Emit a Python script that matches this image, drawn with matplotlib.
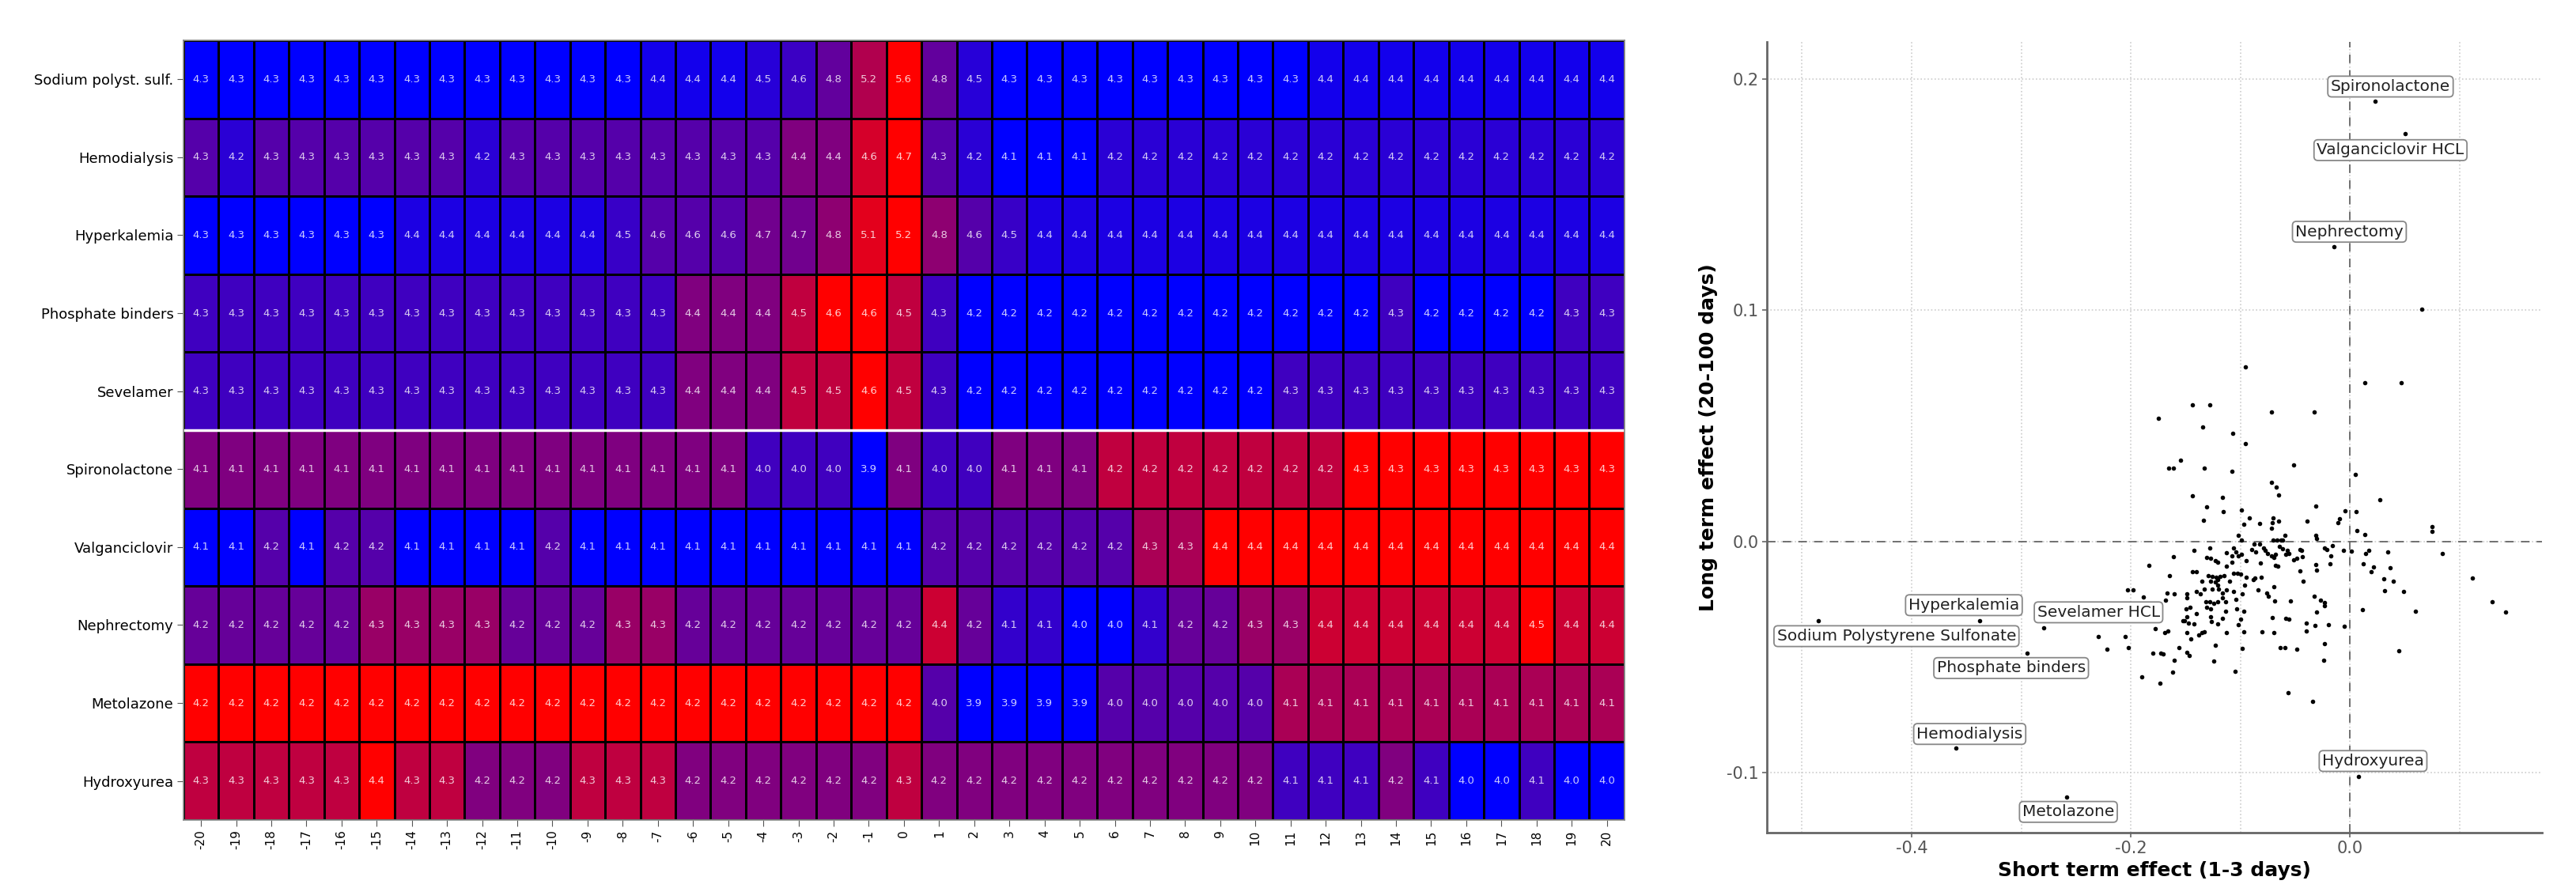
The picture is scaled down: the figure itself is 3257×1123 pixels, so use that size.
import numpy as np
import matplotlib.pyplot as plt
from matplotlib.colors import LinearSegmentedColormap
from matplotlib.ticker import MultipleLocator, FormatStrFormatter

plt.rcParams['axes.unicode_minus'] = False

# ---- heatmap data: mean value by day relative to event ----
days = list(range(-20, 21))
row_names = ["Sodium polyst. sulf.", "Hemodialysis", "Hyperkalemia", "Phosphate binders",
             "Sevelamer", "Spironolactone", "Valganciclovir", "Nephrectomy",
             "Metolazone", "Hydroxyurea"]

sodium_polyst = [4.3, 4.3, 4.3, 4.3, 4.3, 4.3, 4.3, 4.3, 4.3, 4.3, 4.3, 4.3, 4.3, 4.4,
                 4.4, 4.4, 4.5, 4.6, 4.8, 5.2, 5.6, 4.8, 4.5, 4.3, 4.3, 4.3, 4.3, 4.3,
                 4.3, 4.3, 4.3, 4.3, 4.4, 4.4, 4.4, 4.4, 4.4, 4.4, 4.4, 4.4, 4.4]
hemodialysis = [4.3, 4.2, 4.3, 4.3, 4.3, 4.3, 4.3, 4.3, 4.2, 4.3, 4.3, 4.3, 4.3, 4.3,
                4.3, 4.3, 4.3, 4.4, 4.4, 4.6, 4.7, 4.3, 4.2, 4.1, 4.1, 4.1, 4.2, 4.2,
                4.2, 4.2, 4.2, 4.2, 4.2, 4.2, 4.2, 4.2, 4.2, 4.2, 4.2, 4.2, 4.2]
hyperkalemia = [4.3, 4.3, 4.3, 4.3, 4.3, 4.3, 4.4, 4.4, 4.4, 4.4, 4.4, 4.4, 4.5, 4.6,
                4.6, 4.6, 4.7, 4.7, 4.8, 5.1, 5.2, 4.8, 4.6, 4.5, 4.4, 4.4, 4.4, 4.4,
                4.4, 4.4, 4.4, 4.4, 4.4, 4.4, 4.4, 4.4, 4.4, 4.4, 4.4, 4.4, 4.4]
phosphate_binders = [4.3, 4.3, 4.3, 4.3, 4.3, 4.3, 4.3, 4.3, 4.3, 4.3, 4.3, 4.3, 4.3, 4.3,
                     4.4, 4.4, 4.4, 4.5, 4.6, 4.6, 4.5, 4.3, 4.2, 4.2, 4.2, 4.2, 4.2, 4.2,
                     4.2, 4.2, 4.2, 4.2, 4.2, 4.2, 4.3, 4.2, 4.2, 4.2, 4.2, 4.3, 4.3]
sevelamer = [4.3, 4.3, 4.3, 4.3, 4.3, 4.3, 4.3, 4.3, 4.3, 4.3, 4.3, 4.3, 4.3, 4.3,
             4.4, 4.4, 4.4, 4.5, 4.5, 4.6, 4.5, 4.3, 4.2, 4.2, 4.2, 4.2, 4.2, 4.2,
             4.2, 4.2, 4.2, 4.3, 4.3, 4.3, 4.3, 4.3, 4.3, 4.3, 4.3, 4.3, 4.3]
spironolactone = [4.1, 4.1, 4.1, 4.1, 4.1, 4.1, 4.1, 4.1, 4.1, 4.1, 4.1, 4.1, 4.1, 4.1,
                  4.1, 4.1, 4.0, 4.0, 4.0, 3.9, 4.1, 4.0, 4.0, 4.1, 4.1, 4.1, 4.2, 4.2,
                  4.2, 4.2, 4.2, 4.2, 4.2, 4.3, 4.3, 4.3, 4.3, 4.3, 4.3, 4.3, 4.3]
valganciclovir = [4.1, 4.1, 4.2, 4.1, 4.2, 4.2, 4.1, 4.1, 4.1, 4.1, 4.2, 4.1, 4.1, 4.1,
                  4.1, 4.1, 4.1, 4.1, 4.1, 4.1, 4.1, 4.2, 4.2, 4.2, 4.2, 4.2, 4.2, 4.3,
                  4.3, 4.4, 4.4, 4.4, 4.4, 4.4, 4.4, 4.4, 4.4, 4.4, 4.4, 4.4, 4.4]
nephrectomy = [4.2, 4.2, 4.2, 4.2, 4.2, 4.3, 4.3, 4.3, 4.3, 4.2, 4.2, 4.2, 4.3, 4.3,
               4.2, 4.2, 4.2, 4.2, 4.2, 4.2, 4.2, 4.4, 4.2, 4.1, 4.1, 4.0, 4.0, 4.1,
               4.2, 4.2, 4.3, 4.3, 4.4, 4.4, 4.4, 4.4, 4.4, 4.4, 4.5, 4.4, 4.4]
metolazone = [4.2, 4.2, 4.2, 4.2, 4.2, 4.2, 4.2, 4.2, 4.2, 4.2, 4.2, 4.2, 4.2, 4.2,
              4.2, 4.2, 4.2, 4.2, 4.2, 4.2, 4.2, 4.0, 3.9, 3.9, 3.9, 3.9, 4.0, 4.0,
              4.0, 4.0, 4.0, 4.1, 4.1, 4.1, 4.1, 4.1, 4.1, 4.1, 4.1, 4.1, 4.1]
hydroxyurea = [4.3, 4.3, 4.3, 4.3, 4.3, 4.4, 4.3, 4.3, 4.2, 4.2, 4.2, 4.3, 4.3, 4.3,
               4.2, 4.2, 4.2, 4.2, 4.2, 4.2, 4.3, 4.2, 4.2, 4.2, 4.2, 4.2, 4.2, 4.2,
               4.2, 4.2, 4.2, 4.1, 4.1, 4.1, 4.2, 4.1, 4.0, 4.0, 4.1, 4.0, 4.0]

# ---- scatter data: short vs long term effect ----
short_term = [
    -0.0957, -0.1438, -0.1282, -0.1746, -0.1346, -0.1070, -0.0952, -0.1549, -0.1654, -0.1613,
    -0.1332, -0.1077, -0.1440, -0.1164, -0.1306, -0.1159, -0.0991, -0.1337, -0.0921, -0.0969,
    -0.0825, -0.1017, -0.0993, -0.1421, -0.1282, -0.1613, -0.1835, -0.1310, -0.1270, -0.1233,
    -0.1205, -0.1125, -0.1065, -0.1041, -0.1077, -0.1017, -0.0988, -0.1125, -0.1077, -0.0950,
    -0.0897, -0.0861, -0.0825, -0.0789, -0.0776, -0.0752, -0.0820, -0.0873, -0.1647, -0.1438,
    -0.1402, -0.1294, -0.1257, -0.1221, -0.1185, -0.1149, -0.1065, -0.1029, -0.0998, -0.0950,
    -0.0885, -0.0868, -0.0810, -0.1349, -0.1270, -0.1233, -0.1209, -0.1101, -0.1209, -0.0964,
    -0.2032, -0.1979, -0.1888, -0.1686, -0.1671, -0.1606, -0.1486, -0.1486, -0.1402, -0.1366,
    -0.1330, -0.1257, -0.1197, -0.1161, -0.1125, -0.1065, -0.0981, -0.0841, -0.0764, -0.0748,
    -0.1318, -0.1282, -0.1245, -0.1209, -0.1137, -0.1041, -0.1161, -0.1498, -0.1462, -0.1306,
    -0.1270, -0.1402, -0.1486, -0.1510, -0.1137, -0.1034, -0.0969, -0.1270, -0.1161, -0.0998,
    -0.1527, -0.1474, -0.1421, -0.1262, -0.1209, -0.1017, -0.1779, -0.1690, -0.1659, -0.1486,
    -0.1455, -0.1378, -0.1354, -0.1334, -0.1125, -0.0969, -0.0805, -0.2296, -0.2051, -0.2215,
    -0.2022, -0.1233, -0.0981, -0.1558, -0.1486, -0.1469, -0.1799, -0.1726, -0.1702, -0.1606,
    -0.1245, -0.1618, -0.1046, -0.1902, -0.1731,
    0.0132, 0.0469, -0.0717, -0.0327, -0.0513, 0.0045, -0.0717, -0.0676, -0.0652, 0.0269,
    -0.0311, -0.0048, 0.0057, -0.0099, -0.0109, -0.0700, -0.0710, -0.0717, -0.0652, -0.0395,
    0.0750, 0.0750, 0.0065, 0.0132, -0.0592, -0.0315, -0.0308, -0.0705, -0.0669, -0.0633,
    -0.0614, -0.0645, -0.0616, -0.0717, -0.0693, -0.0681, -0.0573, -0.0561, -0.0585, -0.0460,
    -0.0445, -0.0433, -0.0513, -0.0489, -0.0681, -0.0662, -0.0236, -0.0212, -0.0159, -0.0176,
    -0.0060, 0.0012, 0.0173, 0.0144, 0.0346, 0.0841, -0.0313, -0.0306, -0.0181, -0.0457,
    0.0122, 0.0214, 0.0190, 0.0363, -0.0426, 0.0305, 0.0394, 0.0312, 0.0490, -0.0698,
    -0.0688, -0.0541, -0.0330, -0.0272, -0.0236, -0.0236, -0.0303, 0.0110, 0.0594, -0.0710,
    -0.0590, -0.0561, -0.0397, -0.0320, -0.0200, -0.0056, -0.0698, -0.0397, -0.0231, -0.0640,
    -0.0592, -0.0489, 0.0442, -0.0243, -0.0565, -0.0342,
    0.1118, 0.1299, 0.1417, 0.0650,
]
long_term = [
    0.0754, 0.0589, 0.0589, 0.0532, 0.0494, 0.0468, 0.0422, 0.0351, 0.0315, 0.0317,
    0.0315, 0.0302, 0.0197, 0.0190, 0.0149, 0.0127, 0.0135, 0.0092, 0.0100, 0.0074,
    0.0076, 0.0026, 0.0006, -0.0038, -0.0029, -0.0066, -0.0105, -0.0069, -0.0074, -0.0083,
    -0.0091, -0.0048, -0.0029, -0.0046, -0.0063, -0.0063, -0.0055, -0.0108, -0.0091, -0.0083,
    -0.0034, -0.0046, -0.0012, -0.0029, -0.0040, -0.0051, -0.0094, -0.0012, -0.0149, -0.0133,
    -0.0133, -0.0149, -0.0152, -0.0154, -0.0152, -0.0149, -0.0137, -0.0137, -0.0143, -0.0154,
    -0.0165, -0.0160, -0.0156, -0.0173, -0.0171, -0.0177, -0.0165, -0.0171, -0.0188, -0.0188,
    -0.0211, -0.0211, -0.0240, -0.0253, -0.0222, -0.0228, -0.0228, -0.0245, -0.0217, -0.0228,
    -0.0205, -0.0205, -0.0205, -0.0222, -0.0211, -0.0217, -0.0228, -0.0211, -0.0222, -0.0239,
    -0.0262, -0.0262, -0.0268, -0.0262, -0.0262, -0.0251, -0.0245, -0.0291, -0.0285, -0.0285,
    -0.0291, -0.0313, -0.0325, -0.0342, -0.0302, -0.0291, -0.0302, -0.0325, -0.0334, -0.0336,
    -0.0345, -0.0353, -0.0357, -0.0348, -0.0357, -0.0359, -0.0376, -0.0393, -0.0387, -0.0395,
    -0.0422, -0.0404, -0.0396, -0.0391, -0.0393, -0.0391, -0.0390, -0.0411, -0.0412, -0.0465,
    -0.0461, -0.0450, -0.0464, -0.0461, -0.0479, -0.0493, -0.0482, -0.0482, -0.0488, -0.0514,
    -0.0518, -0.0567, -0.0562, -0.0587, -0.0613,
    0.0686, 0.0686, 0.0558, 0.0558, 0.0330, 0.0290, 0.0256, 0.0233, 0.0199, 0.0179,
    0.0154, 0.0133, 0.0130, 0.0099, 0.0082, 0.0102, 0.0080, 0.0057, 0.0088, 0.0088,
    0.0065, 0.0043, 0.0045, 0.0028, 0.0026, 0.0025, 0.0011, 0.0005, 0.0005, 0.0005,
    0.0005, -0.0023, -0.0032, -0.0063, -0.0069, -0.0057, -0.0040, -0.0051, -0.0057, -0.0034,
    -0.0040, -0.0066, -0.0080, -0.0074, -0.0103, -0.0108, -0.0029, -0.0034, -0.0017, -0.0063,
    -0.0038, -0.0042, -0.0040, -0.0054, -0.0046, -0.0054, -0.0099, -0.0125, -0.0097, -0.0129,
    -0.0097, -0.0112, -0.0131, -0.0115, -0.0174, -0.0162, -0.0171, -0.0213, -0.0217, -0.0197,
    -0.0259, -0.0259, -0.0239, -0.0256, -0.0266, -0.0277, -0.0305, -0.0294, -0.0302, -0.0330,
    -0.0334, -0.0338, -0.0353, -0.0363, -0.0359, -0.0366, -0.0395, -0.0388, -0.0442, -0.0459,
    -0.0460, -0.0467, -0.0473, -0.0515, -0.0655, -0.0693,
    -0.0158, -0.0261, -0.0306, 0.1004,
]

# labelled events
label_names = ["Spironolactone", "Valganciclovir HCL", "Nephrectomy",
               "Sodium Polystyrene Sulfonate", "Hyperkalemia", "Sevelamer HCL",
               "Phosphate binders", "Hemodialysis", "Metolazone", "Hydroxyurea"]
label_short = [0.0228, 0.0505, -0.0146, -0.485, -0.338, -0.2797, -0.2946, -0.3598, -0.2583, 0.0076]
label_long = [0.1905, 0.1763, 0.1274, -0.0345, -0.0344, -0.0374, -0.0482, -0.0895, -0.1105, -0.1016]


def plot_heatmap(ax):
    vals = np.array([sodium_polyst, hemodialysis, hyperkalemia, phosphate_binders, sevelamer,
                     spironolactone, valganciclovir, nephrectomy, metolazone, hydroxyurea])
    lo = vals.min(axis=1, keepdims=True)
    hi = vals.max(axis=1, keepdims=True)
    scaled = (vals - lo) / (hi - lo)  # each row scaled on its own

    cmap = LinearSegmentedColormap.from_list("blue_red", ["#0000ff", "#ff0000"])
    ax.pcolormesh(scaled, cmap=cmap, vmin=0, vmax=1, edgecolors="black", linewidth=0.8)
    ax.set_ylim(len(row_names), 0)
    ax.set_xlim(0, len(days))

    for i in range(vals.shape[0]):
        for j in range(vals.shape[1]):
            ax.text(j + 0.5, i + 0.5, f"{vals[i, j]:.1f}", ha="center", va="center",
                    fontsize=9.5, color="white", alpha=0.8)

    ax.axhline(5, color="white", lw=2.5)

    ax.set_xticks(np.arange(len(days)) + 0.5)
    ax.set_xticklabels([str(d) for d in days], rotation=90, fontsize=11)
    ax.set_yticks(np.arange(len(row_names)) + 0.5)
    ax.set_yticklabels(row_names, fontsize=13)
    ax.tick_params(length=6, color="#555555", pad=3)
    for s in ax.spines.values():
        s.set_color("#888888")
        s.set_linewidth(1.2)


def plot_scatter(ax):
    ax.scatter(short_term + label_short, long_term + label_long, s=16, c="black",
               linewidths=0, zorder=3)
    ax.axvline(0, color="#666666", ls=(0, (6, 5)), lw=1.3, zorder=2)
    ax.axhline(0, color="#666666", ls=(0, (6, 5)), lw=1.3, zorder=2)

    offsets = {
        "Spironolactone": (0.0140, 0.0062),
        "Valganciclovir HCL": (-0.0137, -0.0071),
        "Nephrectomy": (0.0139, 0.0065),
        "Sodium Polystyrene Sulfonate": (0.0712, -0.0065),
        "Hyperkalemia": (-0.0143, 0.0068),
        "Sevelamer HCL": (0.0502, 0.0067),
        "Phosphate binders": (-0.0146, -0.0066),
        "Hemodialysis": (0.0128, 0.0062),
        "Metolazone": (0.0013, -0.0065),
        "Hydroxyurea": (0.0133, 0.0066),
    }
    for name, x, y in zip(label_names, label_short, label_long):
        dx, dy = offsets[name]
        ax.text(x + dx, y + dy, name, ha="center", va="center", fontsize=14.5, color="#222222",
                bbox=dict(boxstyle="round,pad=0.18,rounding_size=0.25", fc="white",
                          ec="#888888", lw=1.3), zorder=4)

    ax.set_xlim(-0.532, 0.175)
    ax.set_ylim(-0.126, 0.216)
    ax.xaxis.set_major_locator(MultipleLocator(0.2))
    ax.xaxis.set_minor_locator(MultipleLocator(0.1))
    ax.yaxis.set_major_locator(MultipleLocator(0.1))
    ax.xaxis.set_major_formatter(FormatStrFormatter("%.1f"))
    ax.yaxis.set_major_formatter(FormatStrFormatter("%.1f"))
    ax.grid(which="both", ls=":", color="#cccccc", lw=1.2, zorder=0)
    ax.set_axisbelow(True)

    for side in ["top", "right"]:
        ax.spines[side].set_visible(False)
    for side in ["left", "bottom"]:
        ax.spines[side].set_color("#666666")
        ax.spines[side].set_linewidth(2.0)
    ax.tick_params(which="major", labelsize=15, labelcolor="#555555", color="#666666",
                   length=4, width=1.2)
    ax.tick_params(which="minor", length=0)

    ax.set_xlabel("Short term effect (1-3 days)", fontsize=18, fontweight="bold", labelpad=4)
    ax.set_ylabel("Long term effect (20-100 days)", fontsize=18, fontweight="bold", labelpad=8)


def main():
    fig = plt.figure(figsize=(32.57, 11.23), dpi=100)
    ax_heat = fig.add_axes([0.0712, 0.0766, 0.5594, 0.878])
    ax_sc = fig.add_axes([0.6859, 0.0623, 0.3009, 0.8905])
    plot_heatmap(ax_heat)
    plot_scatter(ax_sc)
    fig.savefig("out.png", dpi=100, facecolor="white")
    plt.close(fig)


if __name__ == "__main__":
    main()
